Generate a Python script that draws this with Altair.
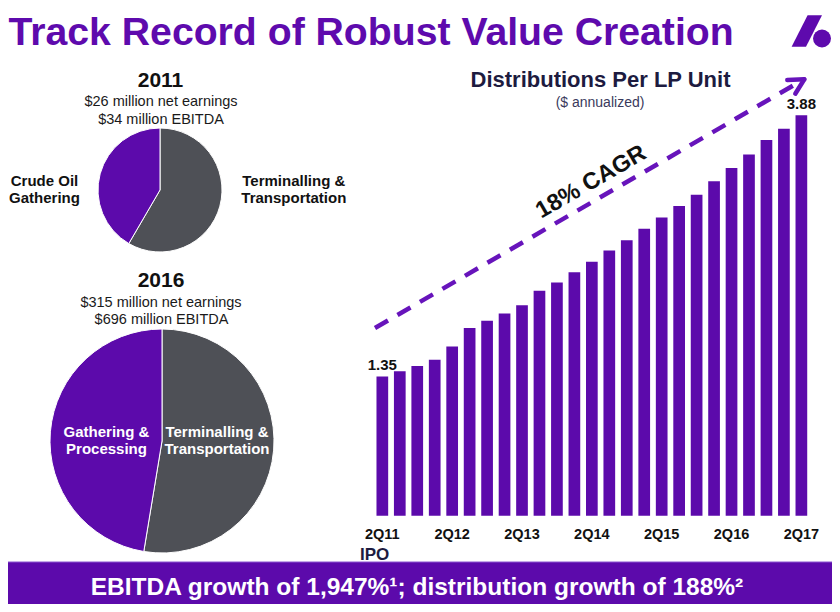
import altair as alt
import pandas as pd

# ---------------- data ----------------
quarters = ["2Q11", "3Q11", "4Q11", "1Q12", "2Q12", "3Q12", "4Q12", "1Q13", "2Q13",
            "3Q13", "4Q13", "1Q14", "2Q14", "3Q14", "4Q14", "1Q15", "2Q15", "3Q15",
            "4Q15", "1Q16", "2Q16", "3Q16", "4Q16", "1Q17", "2Q17"]
distributions = [1.35, 1.40, 1.45, 1.51, 1.64, 1.82, 1.89, 1.96, 2.04, 2.18, 2.26, 2.36,
                 2.46, 2.57, 2.67, 2.78, 2.89, 3.00, 3.11, 3.24, 3.37, 3.50, 3.64, 3.75, 3.88]
tick_labels = ["2Q11", "2Q12", "2Q13", "2Q14", "2Q15", "2Q16", "2Q17"]
value_labels = ["2Q11", "2Q17"]

segments = ["Terminalling & Transportation", "Gathering"]
share_2011 = [58.4, 41.6]
share_2016 = [52.6, 47.4]
segment_colors = ["#4e5056", "#5c0aab"]

# ---------------- layout helpers ----------------
W, H = 824, 596
OX, OY = 8, 8  # page margin


def px(x):
    return x - OX


def py(y):
    return y - OY


FONT = "Liberation Sans"
PURPLE = "#5c0aab"
ARROW = "#6714bb"
NAVY = "#1d1b3f"

one = alt.Data(values=[{"k": 0}])


def label(text, x, y, size, bold=True, color="#111111", align="center", angle=None,
          baseline="alphabetic"):
    kw = dict(text=text, fontSize=size, fontWeight="bold" if bold else "normal",
              color=color, align=align, baseline=baseline, font=FONT)
    if angle is not None:
        kw["angle"] = angle
    return alt.Chart(one).mark_text(**kw).encode(x=alt.value(px(x)), y=alt.value(py(y)))


def seg(x1, y1, x2, y2, width, color, dash=None, cap="butt"):
    kw = dict(color=color, strokeWidth=width, strokeCap=cap)
    if dash:
        kw["strokeDash"] = dash
    return alt.Chart(one).mark_rule(**kw).encode(
        x=alt.value(px(x1)), y=alt.value(py(y1)),
        x2=alt.value(px(x2)), y2=alt.value(py(y2)))


def pie(shares, cx, cy, r):
    df = pd.DataFrame({"segment": segments, "share": shares,
                       "color": segment_colors, "order": [0, 1]})
    return alt.Chart(df).mark_arc(radius=r, stroke="white", strokeWidth=1).encode(
        theta=alt.Theta("share:Q", stack=True),
        order=alt.Order("order:Q"),
        color=alt.Color("color:N", scale=None),
        x=alt.value(px(cx)), y=alt.value(py(cy)))


layers = []

# bottom banner
layers.append(alt.Chart(one).mark_rect(color=PURPLE, stroke="#8a55d0", strokeWidth=1).encode(
    x=alt.value(px(3)), x2=alt.value(px(833)), y=alt.value(py(562)), y2=alt.value(py(612))))

# title + logo
layers.append(label("Track Record of Robust Value Creation", 8.5, 44.5, 39.2,
                    color="#5e0aad", align="left"))
logo_path = "M -0.894 0.924 L -0.047 0.924 L 0.894 -0.924 L 0.047 -0.924 Z"
layers.append(alt.Chart(one).mark_point(shape=logo_path, filled=True, opacity=1,
                                        color="#5e0aad", size=1156, strokeWidth=0).encode(
    x=alt.value(px(806.8)), y=alt.value(py(31))))
layers.append(alt.Chart(one).mark_point(shape="circle", filled=True, opacity=1,
                                        color="#5e0aad", size=324, strokeWidth=0).encode(
    x=alt.value(px(822)), y=alt.value(py(38.5))))

# pies
layers.append(pie(share_2011, 160, 190, 62))
layers.append(pie(share_2016, 162, 441, 112))

# pie texts
layers.append(label("2011", 160.5, 87.3, 21))
layers.append(label("$26 million net earnings", 161, 106, 14.5, bold=False, color="#1a1a1a"))
layers.append(label("$34 million EBITDA", 161, 124, 14.5, bold=False, color="#1a1a1a"))
layers.append(label("Crude Oil", 44.5, 185.7, 15))
layers.append(label("Gathering", 44.5, 203.3, 15))
layers.append(label("Terminalling &", 293.8, 185.7, 15))
layers.append(label("Transportation", 293.8, 203.3, 15))

layers.append(label("2016", 161, 286.7, 21))
layers.append(label("$315 million net earnings", 161, 306.7, 14.5, bold=False, color="#1a1a1a"))
layers.append(label("$696 million EBITDA", 161.5, 324.3, 14.5, bold=False, color="#1a1a1a"))
layers.append(label("Gathering &", 106.5, 436.7, 15, color="white"))
layers.append(label("Processing", 106.5, 454.3, 15, color="white"))
layers.append(label("Terminalling &", 217, 436.7, 15, color="white"))
layers.append(label("Transportation", 217, 454.3, 15, color="white"))

# bar chart
bars_df = pd.DataFrame({"quarter": quarters, "dist": distributions})
xscale = alt.Scale(domain=quarters, range=[px(373.6), px(810.1)],
                   paddingInner=0.33, paddingOuter=0.165)
yscale = alt.Scale(domain=[0, 4], range=[py(515.7), py(102.9)], nice=False, zero=True)

layers.append(alt.Chart(bars_df).mark_bar(color=PURPLE).encode(
    x=alt.X("quarter:N", scale=xscale, axis=None, sort=None),
    y=alt.Y("dist:Q", scale=yscale, axis=None)))

layers.append(alt.Chart(bars_df).transform_filter(
    alt.FieldOneOfPredicate(field="quarter", oneOf=tick_labels)
).mark_text(fontSize=14.5, fontWeight="bold", color="#111111", font=FONT,
            baseline="alphabetic").encode(
    x=alt.X("quarter:N", scale=xscale, axis=None, sort=None),
    y=alt.value(py(539)),
    text="quarter:N"))

layers.append(alt.Chart(bars_df).transform_filter(
    alt.FieldOneOfPredicate(field="quarter", oneOf=value_labels)
).mark_text(fontSize=15, fontWeight="bold", color="#111111", font=FONT,
            baseline="alphabetic", dy=-6).encode(
    x=alt.X("quarter:N", scale=xscale, axis=None, sort=None),
    y=alt.Y("dist:Q", scale=yscale, axis=None),
    text=alt.Text("dist:Q", format=".2f")))

layers.append(label("IPO", 360, 560, 17, color=NAVY, align="left"))
layers.append(label("Distributions Per LP Unit", 600.5, 86.7, 22, color=NAVY))
layers.append(label("($ annualized)", 600, 106.7, 14, bold=False, color="#3a3a5c"))

# CAGR arrow
layers.append(seg(375, 328, 803, 79.8, 4.5, ARROW, dash=[15, 11]))
layers.append(seg(804.3, 79.3, 787.3, 79.9, 4.5, ARROW, cap="round"))
layers.append(seg(804.3, 79.3, 795.3, 93.7, 4.5, ARROW, cap="round"))
layers.append(label("18% CAGR", 591, 182, 23.5, angle=330, baseline="middle"))

# banner text
layers.append(label("EBITDA growth of 1,947%\u00b9; distribution growth of 188%\u00b2",
                    417, 595, 24.5, color="white"))

chart = alt.layer(*layers).resolve_scale(theta="independent").properties(
    width=W, height=H, padding=0,
    autosize=alt.AutoSizeParams(type="none"),
    background="white",
).configure_view(stroke=None)

chart.save("out.html", embed_options={"renderer": "svg", "actions": False})
